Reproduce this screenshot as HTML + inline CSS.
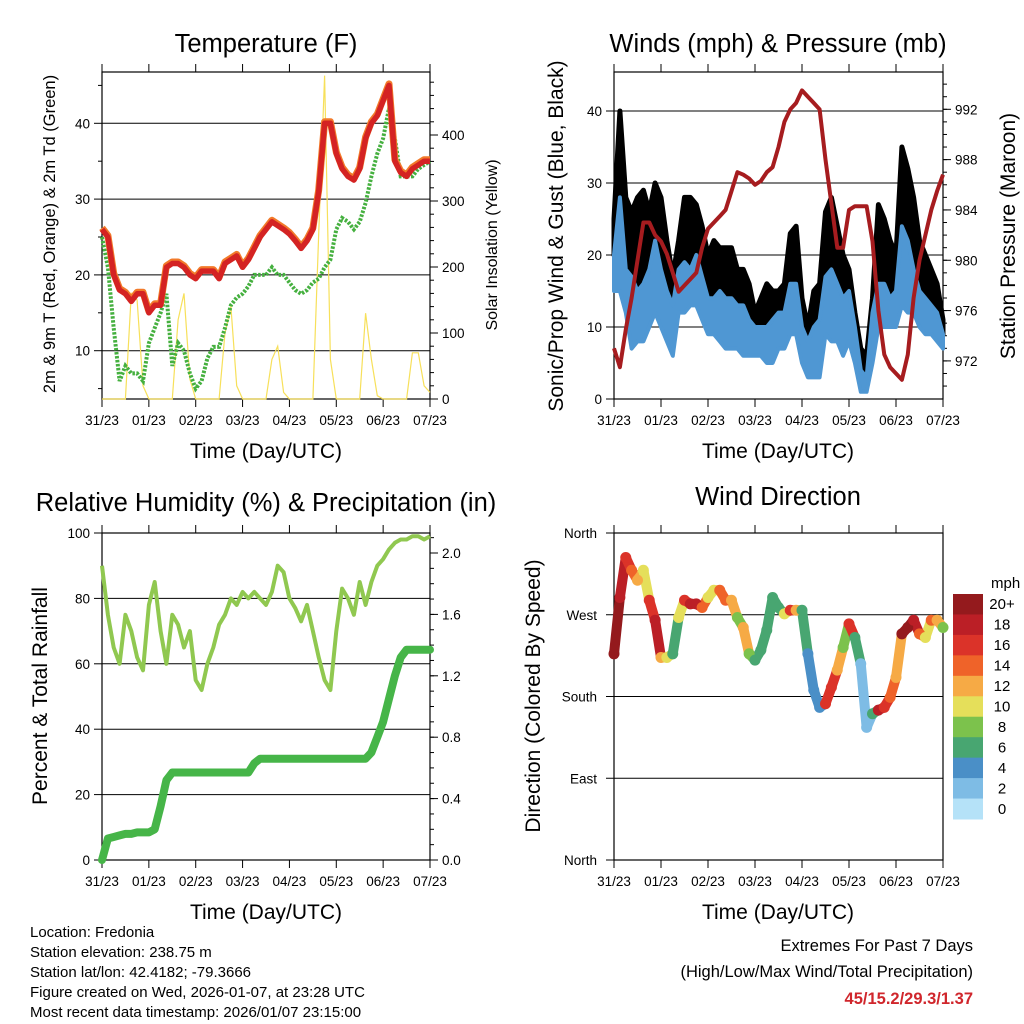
<!DOCTYPE html>
<html><head><meta charset="utf-8"><style>
html,body{margin:0;padding:0;background:#fff;}
svg{display:block;font-family:"Liberation Sans",sans-serif;}
</style></head><body>
<svg id="s" width="1024" height="1024" viewBox="0 0 1024 1024" xmlns="http://www.w3.org/2000/svg">
<g id="tx">
<text x="266" y="52" font-size="25.5" text-anchor="middle">Temperature (F)</text>
<text x="778" y="52" font-size="25.5" text-anchor="middle">Winds (mph) &amp; Pressure (mb)</text>
<text x="266" y="511" font-size="25.5" text-anchor="middle">Relative Humidity (%) &amp; Precipitation (in)</text>
<text x="778" y="505" font-size="25.5" text-anchor="middle">Wind Direction</text>
<text x="266" y="458" font-size="21" text-anchor="middle">Time (Day/UTC)</text>
<text x="778" y="458" font-size="21" text-anchor="middle">Time (Day/UTC)</text>
<text x="266" y="919" font-size="21" text-anchor="middle">Time (Day/UTC)</text>
<text x="778" y="919" font-size="21" text-anchor="middle">Time (Day/UTC)</text>
<text transform="translate(55,234) rotate(-90)" font-size="16.5" text-anchor="middle">2m &amp; 9m T (Red, Orange) &amp; 2m Td (Green)</text>
<text transform="translate(497,245) rotate(-90)" font-size="16" text-anchor="middle">Solar Insolation (Yellow)</text>
<text transform="translate(563,236) rotate(-90)" font-size="21" text-anchor="middle">Sonic/Prop Wind &amp; Gust (Blue, Black)</text>
<text transform="translate(1015,236) rotate(-90)" font-size="21" text-anchor="middle">Station Pressure (Maroon)</text>
<text transform="translate(47,696) rotate(-90)" font-size="21" text-anchor="middle">Percent &amp; Total Rainfall</text>
<text transform="translate(540,696) rotate(-90)" font-size="21" text-anchor="middle">Direction (Colored By Speed)</text>
<g font-size="15">
<text x="30" y="937">Location: Fredonia</text>
<text x="30" y="957">Station elevation: 238.75 m</text>
<text x="30" y="977">Station lat/lon: 42.4182; -79.3666</text>
<text x="30" y="997">Figure created on Wed, 2026-01-07, at 23:28 UTC</text>
<text x="30" y="1017">Most recent data timestamp: 2026/01/07 23:15:00</text>
</g>
<text x="973" y="951" font-size="16.5" text-anchor="end">Extremes For Past 7 Days</text>
<text x="973" y="977" font-size="16.5" text-anchor="end">(High/Low/Max Wind/Total Precipitation)</text>
<text x="973" y="1004" font-size="16.5" font-weight="bold" fill="#d0262c" text-anchor="end">45/15.2/29.3/1.37</text>
<text x="991" y="588" font-size="15">mph</text>
</g>
</svg>
<script>
// ---- data (3-hourly samples, t = 0..168 h) ----
var xTickLabels = ["31/23","01/23","02/23","03/23","04/23","05/23","06/23","07/23"];
var tempT = [26,25,20,18,17.5,16.5,17.5,17.5,15,16,16,21,21.5,21.5,21,20,19.5,20.5,20.5,20.5,19.5,21.5,22,22.5,21,22,23.5,25,26,27,26.5,26,25.4,24.5,23.5,24.5,26,31,40,40,36,34,33,32.5,34,38,40,41,43,45,35,33.5,33,34,34.5,35,35];
var dewT = [25,21,13,6,8,7,7,6,11,13,15,17.5,8,11,10,7,5,6,9,10.5,10.5,13,16,17,17.5,18.5,20,20,20,21,20,20,19,18,17.5,18,19,19.5,21,22,26,27.5,27,26,27,29.5,33,36,38,42,38,33,33,33,34,34.5,35];
var solar = [0,0,0,0,0,160,150,20,0,0,0,0,0,120,160,30,0,0,0,0,0,100,140,20,0,0,0,0,0,60,80,10,0,0,0,0,0,250,490,60,0,0,0,0,0,130,60,5,0,0,0,0,0,70,70,20,10];
var gust = [25,40,28,26,28,29,26,30,28,22,17,22,28,28,27,24,20,22,21,21,21,18,18,16,12,14,16,15,15,16,23,24,14,10,15,16,26,28,24,20,18,12,7,6,14,27,25,22,20,35,32,28,22,20,18,16,11];
var wind = [20,28,18,17,15,16,18,22,18,15,13,18,19,18,20,17,14,14,15,14,14,13,13,11,10,10,10,11,12,12,16,16,10,8,10,11,17,18,16,14,15,10,4,3,12,16,16,14,15,24,22,18,15,14,13,12,9];
var windMin = [15,15,12,7,8,8,10,12,10,8,6,12,12,13,13,11,9,9,8,7,7,7,6,6,6,6,5,5,7,7,9,9,5,3,3,3,9,8,8,6,8,5,1,1,5,10,10,10,10,13,12,12,10,9,9,8,7];
var pressure = [973,971.5,974.5,977,980,983,983,982,981.5,980.5,979,977.5,978,978.5,979,981,982.5,983,983.5,984,985.5,987,986.8,986.5,986,986.3,987,987.4,989,991,992,992.5,993.5,993,992.5,992,988,984.5,981,981,984,984.3,984.3,984.3,981.5,976,972.5,971.5,971,970.5,972.5,977,980,982,984,985.5,986.8];
var rh = [90,75,65,60,75,70,62,58,78,85,70,60,75,72,65,70,55,52,60,65,72,75,80,78,82,80,82,80,78,82,90,88,80,77,73,78,70,62,55,52,70,83,80,75,85,78,85,90,92,95,97,98,98,99,99,98,99];
var precip = [0,0.14,0.15,0.16,0.17,0.17,0.18,0.18,0.18,0.2,0.35,0.52,0.57,0.57,0.57,0.57,0.57,0.57,0.57,0.57,0.57,0.57,0.57,0.57,0.57,0.57,0.63,0.66,0.66,0.66,0.66,0.66,0.66,0.66,0.66,0.66,0.66,0.66,0.66,0.66,0.66,0.66,0.66,0.66,0.66,0.66,0.7,0.8,0.9,1.05,1.2,1.32,1.37,1.37,1.37,1.37,1.37];
var direction = [227,289,333,319,308,319,286,264,223,223,227,267,286,282,282,278,289,297,297,286,286,267,256,227,220,231,253,289,278,271,275,275,275,227,187,168,172,190,209,234,260,245,216,146,161,165,168,179,201,249,256,264,249,245,264,264,256];
var speed = [20,18,17,14,12,10,17,19,12,11,7,10,17,18,18,15,11,11,14,14,12,9,12,8,7,7,7,7,7,11,16,12,7,4,5,5,16,16,12,9,16,7,3,2,7,18,16,14,12,20,20,19,14,10,14,13,8];
var speedBins = ["20+","18","16","14","12","10","8","6","4","2","0"];
var binColors = ["#941a1d","#bb1f26","#db3329","#ef6329","#f6aa45","#e5df5a","#7cc24c","#48a671","#4a8fc7","#7ebce5","#b5e2f8"];

var svg = document.getElementById('s');
var NS = 'http://www.w3.org/2000/svg';
function el(tag, attrs, parent){var e=document.createElementNS(NS,tag);for(var k in attrs)e.setAttribute(k,attrs[k]);(parent||svg).appendChild(e);return e;}
function tIdx(i){return i*3;}

var P = {
 temp:{x0:102,x1:430,y0:72,y1:399},
 wind:{x0:614,x1:943,y0:72,y1:399},
 rh:{x0:102,x1:430,y0:533,y1:860},
 dir:{x0:614,x1:943,y0:533,y1:860}
};
function xs(p,t){return p.x0+t/168*(p.x1-p.x0);}
var yTemp=function(v){return 350.7-(v-10)*7.58;};
var ySolar=function(v){return 399-v*0.66;};
var yWind=function(v){return 399-v*7.2;};
var yPres=function(v){return 109.3+(992-v)*12.58;};
var yRH=function(v){return 860-v*3.27;};
var yPre=function(v){return 860-v*153.5;};
var yDir=function(v){return 860-v/360*327;};

function frame(p,name,grids){
  var g=el('g',{});
  
  
  grids.forEach(function(y){el('line',{x1:p.x0,x2:p.x1,y1:y,y2:y,stroke:'#000','stroke-width':1},g);});
  el('rect',{x:p.x0,y:p.y0,width:p.x1-p.x0,height:p.y1-p.y0,fill:'none',stroke:'#000','stroke-width':1.2},g);
  for(var i=0;i<xTickLabels.length;i++){
    var x=p.x0+i*(p.x1-p.x0)/7;
    el('line',{x1:x,x2:x,y1:p.y0,y2:p.y0-8,stroke:'#000'},g);
    el('line',{x1:x,x2:x,y1:p.y1,y2:p.y1+8,stroke:'#000'},g);
    var tx=el('text',{x:x,y:p.y1+26,'font-size':13.5,'text-anchor':'middle'},g);
    tx.textContent=xTickLabels[i];
    
    
  }
  return g;
}
function yAxis(g,p,side,vals,fy,labelFmt,minor){
  var x= side==='l'?p.x0:p.x1, d= side==='l'?-1:1;
  minor.forEach(function(v){var y=fy(v);el('line',{x1:x,x2:x+d*4,y1:y,y2:y,stroke:'#000'},g);});
  vals.forEach(function(v){var y=fy(v);el('line',{x1:x,x2:x+d*8,y1:y,y2:y,stroke:'#000'},g);
    var t=el('text',{x:x+d*12,y:y+5,'font-size':13.5,'text-anchor':side==='l'?'end':'start'},g);
    t.textContent=labelFmt(v);
    
    
  });
}
function range(a,b,s){var r=[];for(var v=a;v<=b+1e-9;v+=s)r.push(+v.toFixed(3));return r;}
function pts(arr,p,fy){return arr.map(function(v,i){return xs(p,tIdx(i)).toFixed(1)+','+fy(v).toFixed(1);}).join(' ');}

// ---- Temperature panel ----
var gT=frame(P.temp,'temperature',[yTemp(10),yTemp(20),yTemp(30),yTemp(40)]);
yAxis(gT,P.temp,'l',[10,20,30,40],yTemp,String,[5,15,25,35,45]);
yAxis(gT,P.temp,'r',[0,100,200,300,400],ySolar,String,range(20,480,20));
var sl=el('polyline',{points:pts(solar,P.temp,ySolar),fill:'none',stroke:'#f7e05a','stroke-width':1.2});


var dl=el('polyline',{points:pts(dewT,P.temp,yTemp),fill:'none',stroke:'#45b03f','stroke-width':4,'stroke-dasharray':'2.5 1.5'});


var ol=el('polyline',{points:pts(tempT,P.temp,yTemp),fill:'none',stroke:'#f27a2a','stroke-width':7,'stroke-linejoin':'round',transform:'translate(0,-1.5)'});


var rl=el('polyline',{points:pts(tempT,P.temp,yTemp),fill:'none',stroke:'#d42323','stroke-width':5.5,'stroke-linejoin':'round'});



// ---- Winds panel ----
var gW=frame(P.wind,'winds',[yWind(10),yWind(20),yWind(30),yWind(40)]);
yAxis(gW,P.wind,'l',[0,10,20,30,40],yWind,String,[]);
yAxis(gW,P.wind,'r',[972,976,980,984,988,992],yPres,String,range(970,994,1));
function band(a,b,p,fy){var up=a.map(function(v,i){return xs(p,tIdx(i)).toFixed(1)+','+fy(v).toFixed(1);});
  var dn=b.map(function(v,i){return xs(p,tIdx(i)).toFixed(1)+','+fy(v).toFixed(1);}).reverse();return up.concat(dn).join(' ');}
var gb=el('polygon',{points:band(gust,wind,P.wind,yWind),fill:'#000',stroke:'#000','stroke-width':5,'stroke-linejoin':'round'});


var wb=el('polygon',{points:band(wind,windMin,P.wind,yWind),fill:'#4f97d3',stroke:'#4f97d3','stroke-width':4,'stroke-linejoin':'round'});


var pl=el('polyline',{points:pts(pressure,P.wind,yPres),fill:'none',stroke:'#a61c1f','stroke-width':4,'stroke-linejoin':'round'});



// ---- RH panel ----
var gR=frame(P.rh,'humidity',[yRH(20),yRH(40),yRH(60),yRH(80)]);
yAxis(gR,P.rh,'l',[0,20,40,60,80,100],yRH,String,[]);
yAxis(gR,P.rh,'r',[0,0.4,0.8,1.2,1.6,2.0],yPre,function(v){return v.toFixed(1);},range(0.1,2.1,0.1));
var hl=el('polyline',{points:pts(rh,P.rh,yRH),fill:'none',stroke:'#90c850','stroke-width':4,'stroke-linejoin':'round'});


var prl=el('polyline',{points:pts(precip,P.rh,yPre),fill:'none',stroke:'#46b548','stroke-width':8,'stroke-linejoin':'round','stroke-linecap':'round'});



// ---- Direction panel ----
var gD=frame(P.dir,'direction',[yDir(90),yDir(180),yDir(270)]);
var dirLabels=["North","East","South","West","North"];
[0,90,180,270,360].forEach(function(v,i){var y=yDir(v);el('line',{x1:P.dir.x0,x2:P.dir.x0-8,y1:y,y2:y,stroke:'#000'},gD);
  var t=el('text',{x:P.dir.x0-17,y:y+5,'font-size':13.5,'text-anchor':'end'},gD);t.textContent=dirLabels[i];
  
  });
function colorFor(s){var b=Math.min(10,Math.floor(s/2));return binColors[10-b];}
for(var i=0;i<direction.length-1;i++){
  var sg=el('line',{x1:xs(P.dir,tIdx(i)),y1:yDir(direction[i]),x2:xs(P.dir,tIdx(i+1)),y2:yDir(direction[i+1]),stroke:colorFor(speed[i]),'stroke-width':10,'stroke-linecap':'round'});
  
  
}
for(var i=0;i<direction.length;i++){
  var c=el('circle',{cx:xs(P.dir,tIdx(i)),cy:yDir(direction[i]),r:5.5,fill:colorFor(speed[i])});
  
  
}
var cb=el('g',{});


var bh=(819-594)/11;
speedBins.forEach(function(lab,i){
  var r=el('rect',{x:953,y:594+i*bh,width:30,height:bh+0.5,fill:binColors[i]},cb);
  
  
  var t=el('text',{x:1002,y:594+i*bh+bh/2+5,'font-size':15,'text-anchor':'middle'},cb);t.textContent=lab;
  
  
});
</script>
</body></html>
